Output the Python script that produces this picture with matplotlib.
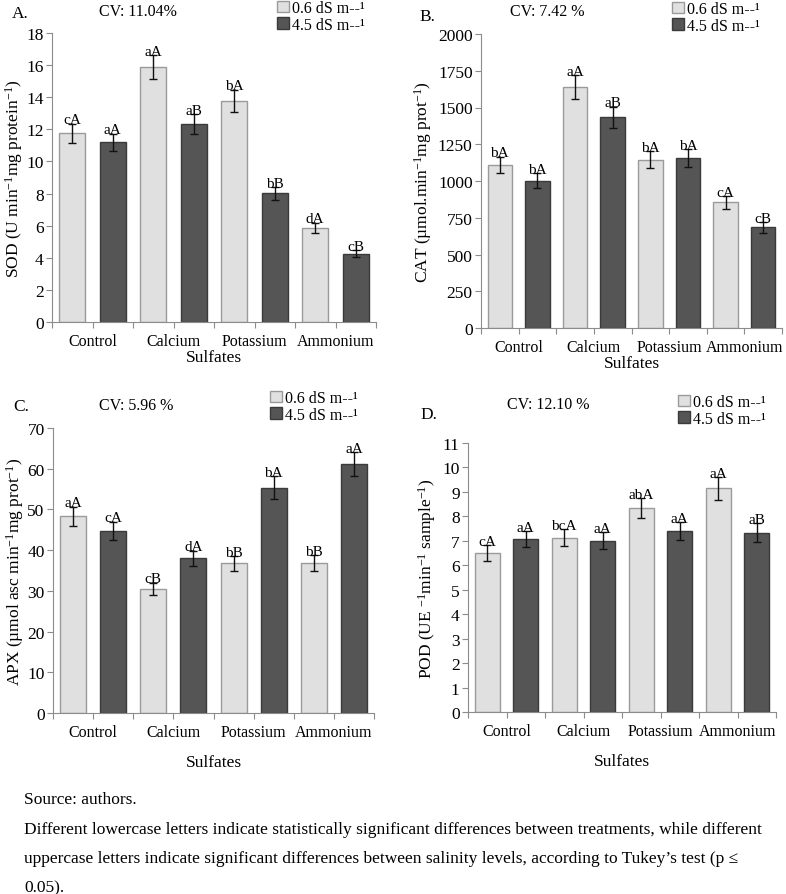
import numpy as np
import matplotlib
matplotlib.use("Agg")
import matplotlib.pyplot as plt
from matplotlib.patches import Patch

plt.rcParams['font.family'] = ['Liberation Serif', 'DejaVu Serif']
plt.rcParams['mathtext.fontset'] = 'custom'
plt.rcParams['mathtext.rm'] = 'Liberation Serif'
plt.rcParams['mathtext.it'] = 'Liberation Serif:italic'
plt.rcParams['mathtext.default'] = 'rm'

categories = ['Control', 'Calcium', 'Potassium', 'Ammonium']
levels = ['0.6 dS m--\u00b9', '4.5 dS m--\u00b9']

# A. SOD
sod_low = [11.75, 15.88, 13.78, 5.88]
sod_high = [11.18, 12.33, 8.02, 4.26]
sod_low_err = [0.6, 0.76, 0.7, 0.31]
sod_high_err = [0.55, 0.62, 0.4, 0.22]
sod_low_let = ['cA', 'aA', 'bA', 'dA']
sod_high_let = ['aA', 'aB', 'bB', 'cB']

# B. CAT
cat_low = [1110, 1638, 1144, 854]
cat_high = [1003, 1434, 1155, 684]
cat_low_err = [56, 80, 57, 43]
cat_high_err = [52, 72, 60, 36]
cat_low_let = ['bA', 'aA', 'bA', 'cA']
cat_high_let = ['bA', 'aB', 'bA', 'cB']

# C. APX
apx_low = [48.3, 30.5, 36.8, 36.8]
apx_high = [44.8, 38.0, 55.3, 61.1]
apx_low_err = [2.4, 1.5, 1.8, 1.9]
apx_high_err = [2.2, 1.9, 2.8, 3.0]
apx_low_let = ['aA', 'cB', 'bB', 'bB']
apx_high_let = ['cA', 'dA', 'bA', 'aA']

# D. POD
pod_low = [6.51, 7.13, 8.33, 9.15]
pod_high = [7.07, 7.01, 7.41, 7.34]
pod_low_err = [0.33, 0.36, 0.41, 0.47]
pod_high_err = [0.34, 0.36, 0.37, 0.37]
pod_low_let = ['cA', 'bcA', 'abA', 'aA']
pod_high_let = ['aA', 'aA', 'aA', 'aB']

LIGHT = '#e0e0e0'
LIGHT_EDGE = '#9a9a9a'
DARK = '#555555'
DARK_EDGE = '#3a3a3a'
AXIS = '#8c8c8c'

W, H = 786, 895
fig = plt.figure(figsize=(W / 100, H / 100), dpi=100)


def px_axes(left, right, top, bottom):
    return fig.add_axes([left / W, 1 - bottom / H, (right - left) / W, (bottom - top) / H])


def draw_panel(ax, low, high, low_err, high_err, low_let, high_let,
               ymax, step, ylabel, xlab_pad, ylab_pad=3):
    n = len(categories)
    x_low = np.arange(n) * 2
    x_high = x_low + 1
    ax.bar(x_low, low, width=0.65, color=LIGHT, edgecolor=LIGHT_EDGE, linewidth=1)
    ax.bar(x_high, high, width=0.65, color=DARK, edgecolor=DARK_EDGE, linewidth=1)
    ax.errorbar(x_low, low, yerr=low_err, fmt='none', ecolor='#111111', elinewidth=1, capsize=3)
    ax.errorbar(x_high, high, yerr=high_err, fmt='none', ecolor='#111111', elinewidth=1, capsize=3)
    for xs, vals, errs, lets in [(x_low, low, low_err, low_let), (x_high, high, high_err, high_let)]:
        for xi, v, e, t in zip(xs, vals, errs, lets):
            ax.annotate(t, (xi, v + e), xytext=(0, -2), textcoords='offset points',
                        ha='center', va='bottom', fontsize=11)
    ax.set_xlim(-0.5, 2 * n - 0.5)
    ax.set_ylim(0, ymax)
    ax.set_yticks(np.arange(0, ymax + step / 2, step))
    bounds = np.arange(-0.5, 2 * n, 1.0)
    ax.set_xticks(bounds)
    labels = [''] * len(bounds)
    for i, c in enumerate(categories):
        labels[2 * i + 1] = c
    ax.set_xticklabels(labels)
    for s in ['top', 'right']:
        ax.spines[s].set_visible(False)
    for s in ['left', 'bottom']:
        ax.spines[s].set_color(AXIS)
    ax.tick_params(axis='both', colors=AXIS, labelcolor='black', length=4)
    ax.tick_params(axis='x', pad=4, labelsize=11.5)
    ax.tick_params(axis='y', labelsize=12.5, pad=2)
    ax.set_ylabel(ylabel, fontsize=12.5, labelpad=ylab_pad)
    ax.set_xlabel('Sulfates', fontsize=12.5, labelpad=xlab_pad)


def add_legend(ax, x, y):
    handles = [Patch(facecolor=LIGHT, edgecolor=LIGHT_EDGE),
               Patch(facecolor=DARK, edgecolor=DARK_EDGE)]
    fig.legend(handles, levels, loc='upper left', bbox_to_anchor=(x / W, 1 - y / H),
               frameon=False, fontsize=11.5, handlelength=0.75, handleheight=0.75,
               handletextpad=0.2, labelspacing=0.05, borderpad=0, borderaxespad=0)


axA = px_axes(52, 376, 34, 323)
draw_panel(axA, sod_low, sod_high, sod_low_err, sod_high_err, sod_low_let, sod_high_let,
           18, 2, r'SOD (U min$^{-1}$mg protein$^{-1}$)', 0, 1)
axB = px_axes(481, 782, 35, 329)
draw_panel(axB, cat_low, cat_high, cat_low_err, cat_high_err, cat_low_let, cat_high_let,
           2000, 250, '\u00b5mol'.join(['CAT (', r'.min$^{-1}$mg prot$^{-1}$)']), 0)
axC = px_axes(53, 374, 429, 714)
draw_panel(axC, apx_low, apx_high, apx_low_err, apx_high_err, apx_low_let, apx_high_let,
           70, 10, '\u00b5mol'.join(['APX (', r' asc min$^{-1}$mg prot$^{-1}$)']), 10, 1)
axD = px_axes(468, 776, 444, 713)
draw_panel(axD, pod_low, pod_high, pod_low_err, pod_high_err, pod_low_let, pod_high_let,
           11, 1, r'POD (UE $^{-1}$min$^{-1}$ sample$^{-1}$)', 10)

# panel letters and CV
fig.text(12 / W, 1 - 14 / H, 'A.', fontsize=12.5, va='center')
fig.text(138 / W, 1 - 12 / H, 'CV: 11.04%', fontsize=11.5, va='center', ha='center')
add_legend(axA, 277, 1)
fig.text(419 / W, 1 - 17 / H, 'B.', fontsize=12.5, va='center')
fig.text(547 / W, 1 - 12 / H, 'CV: 7.42 %', fontsize=11.5, va='center', ha='center')
add_legend(axB, 672, 2)
fig.text(13 / W, 1 - 407 / H, 'C.', fontsize=12.5, va='center')
fig.text(136 / W, 1 - 406 / H, 'CV: 5.96 %', fontsize=11.5, va='center', ha='center')
add_legend(axC, 270, 391)
fig.text(420 / W, 1 - 415 / H, 'D.', fontsize=12.5, va='center')
fig.text(548 / W, 1 - 405 / H, 'CV: 12.10 %', fontsize=11.5, va='center', ha='center')
add_legend(axD, 678, 395)

# footnote
foot = 12.5
fig.text(24 / W, 1 - 800 / H, 'Source: authors.', fontsize=foot, va='center')
fig.text(24 / W, 1 - 830 / H,
         'Different lowercase letters indicate statistically significant differences between treatments, while different',
         fontsize=foot, va='center')
fig.text(24 / W, 1 - 859 / H,
         'uppercase letters indicate significant differences between salinity levels, according to Tukey\u2019s test (p \u2264',
         fontsize=foot, va='center')
fig.text(24 / W, 1 - 888 / H, '0.05).', fontsize=foot, va='center')

fig.savefig('out.png', dpi=100)
